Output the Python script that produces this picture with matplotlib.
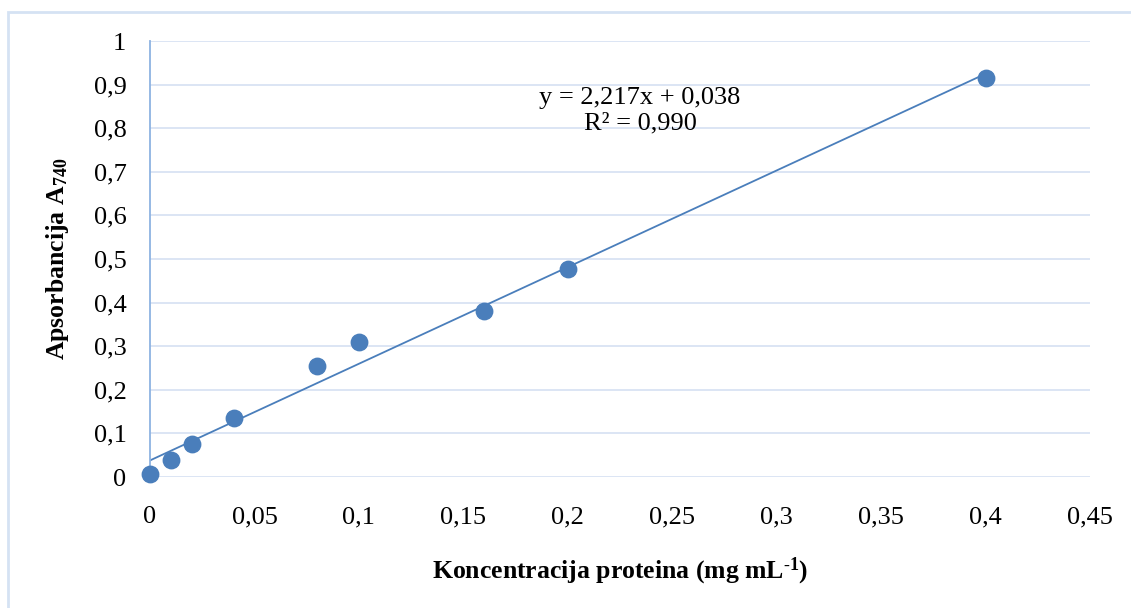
import numpy as np
import matplotlib
matplotlib.use("Agg")
import matplotlib.pyplot as plt
from matplotlib.ticker import FuncFormatter
from matplotlib.patches import Rectangle

# data
konc = [0.0, 0.01, 0.02, 0.04, 0.08, 0.10, 0.16, 0.20, 0.40]
aps = [0.008, 0.038, 0.075, 0.135, 0.255, 0.310, 0.380, 0.478, 0.915]
slope = 2.217
intercept = 0.038
r2 = 0.990

plt.rcParams['font.family'] = ['Liberation Serif', 'DejaVu Serif']
plt.rcParams['mathtext.fontset'] = 'custom'
plt.rcParams['mathtext.rm'] = 'Liberation Serif'
plt.rcParams['mathtext.bf'] = 'Liberation Serif:weight=bold'
plt.rcParams['mathtext.it'] = 'Liberation Serif:style=italic'

fig = plt.figure(figsize=(11.31, 6.08), dpi=100)
ax = fig.add_axes([150/1131, 1 - 477/608, 940/1131, 436/608])

blue = '#4a7ebb'
ax.set_axisbelow(True)
ax.grid(axis='y', color='#d9e3f3', linewidth=1.3)
ax.grid(axis='x', visible=False)

xs = np.array([0, max(konc)])
ax.plot(xs, slope * xs + intercept, color=blue, linewidth=1.3, zorder=2)
ax.scatter(konc, aps, s=140, color=blue, zorder=3, clip_on=False)

ax.set_xlim(0, 0.45)
ax.set_ylim(0, 1)
ax.set_xticks(np.arange(0, 0.451, 0.05))
ax.set_yticks(np.arange(0, 1.01, 0.1))

fmt = FuncFormatter(lambda v, p: ('%g' % round(v, 2)).replace('.', ','))
ax.xaxis.set_major_formatter(fmt)
ax.yaxis.set_major_formatter(fmt)
ax.tick_params(length=0, labelsize=19)
ax.tick_params(axis='x', pad=21)
ax.tick_params(axis='y', pad=17)

for s in ['top', 'right', 'bottom']:
    ax.spines[s].set_visible(False)
ax.spines['left'].set_color('#8db3e2')
ax.spines['left'].set_linewidth(1.3)

ax.set_xlabel('Koncentracija proteina (mg mL$^{\\mathbf{-1}}$)'.replace('-1', '\\text{-}1'),
              fontsize=18.5, fontweight='bold', labelpad=20)
ax.set_ylabel('Apsorbancija A$_{\\mathbf{740}}$', fontsize=18.5,
              fontweight='bold', labelpad=16)

ax.text(0.2346, 0.84, 'y = 2,217x + 0,038\nR² = 0,990', ha='center', va='center',
        fontsize=19, linespacing=1.2)

fig.patches.append(Rectangle((8/1131, -0.01), 1.2, 1 - 12/608 + 0.01,
                             transform=fig.transFigure, fill=False,
                             edgecolor='#d5e2f3', linewidth=2))

fig.savefig('out.png', dpi=100)
